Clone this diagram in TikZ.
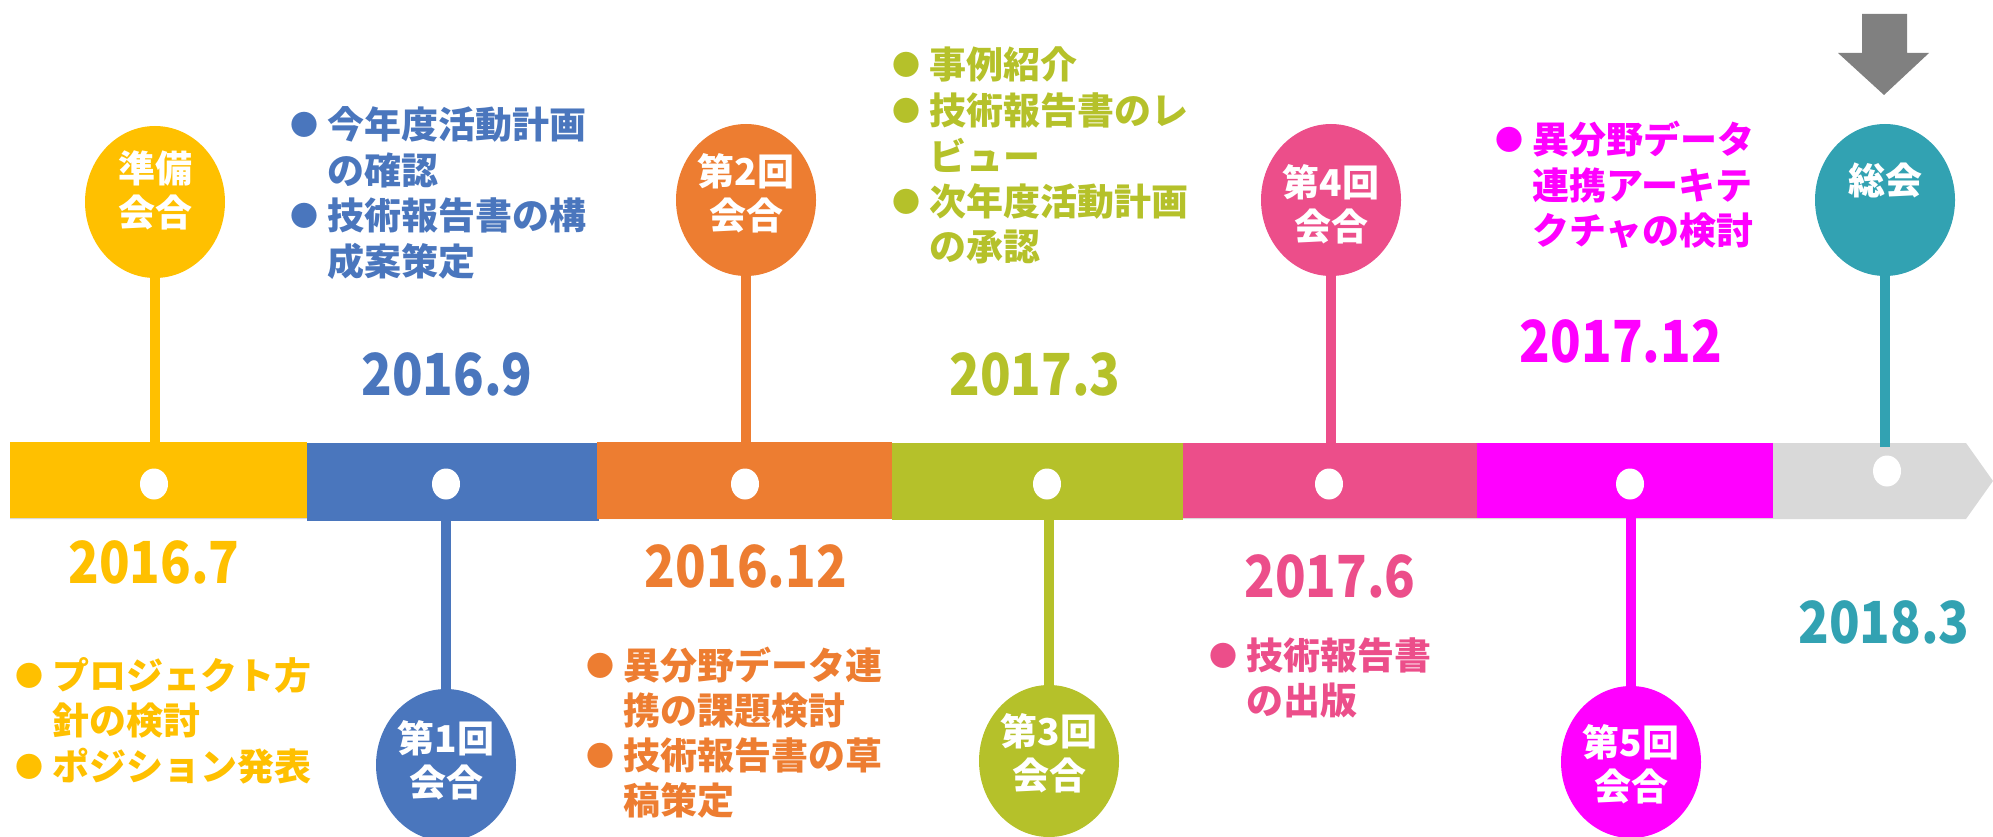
\documentclass[tikz,border=0pt]{standalone}
\usepackage{fontspec}
\usepackage{graphicx}
\usetikzlibrary{shapes.geometric}
\newfontfamily\jp{Noto Sans CJK JP}
\definecolor{colY}{HTML}{FFC000}
\definecolor{colB}{HTML}{4A76BD}
\definecolor{colO}{HTML}{ED7D31}
\definecolor{colG}{HTML}{B5C12A}
\definecolor{colP}{HTML}{EC4E8A}
\definecolor{colM}{HTML}{FF00FF}
\definecolor{colT}{HTML}{32A2B2}
\definecolor{colGray}{HTML}{D9D9D9}
\definecolor{colArrow}{HTML}{808080}
\newcommand{\bl}{\makebox[37pt][l]{\raisebox{3pt}{\fontsize{28}{28}\selectfont ●}}}
\newcommand{\ind}{\hspace*{37pt}}
\newcommand{\dt}[1]{\scalebox{0.87}[1]{#1}}
\begin{document}
\begin{tikzpicture}[x=1pt,y=-1pt,
  seg/.style={rectangle, inner sep=0, draw=none, minimum height=76pt},
  meet/.style={ellipse, inner sep=0, minimum width=140pt, minimum height=152pt},
  mtext/.style={text=white, align=center, inner sep=0, font=\jp\bfseries\fontsize{37}{44}\selectfont},
  stem/.style={line width=10pt},
  dot/.style={ellipse, fill=white, inner sep=0, minimum width=28pt, minimum height=31pt},
  date/.style={inner sep=0, font=\jp\bfseries\fontsize{58}{58}\selectfont},
  blk/.style={anchor=base west, inner sep=0, font=\jp\bfseries\fontsize{37}{45}\selectfont}]
\useasboundingbox (0,0) rectangle (1993,837);
\clip (0,0) rectangle (1993,837);
% base arrow
\fill[colGray] (10,443) -- (1966,443) -- (1993,481) -- (1966,519) -- (10,519) -- cycle;
% segments
\node[seg, fill=colY, minimum width=297pt] (s0) at (158.5,480) {};
\node[seg, fill=colB, minimum width=292pt, minimum height=78pt] (s1) at (453,482) {};
\node[seg, fill=colO, minimum width=295pt, minimum height=77pt] (s2) at (744.5,480.5) {};
\node[seg, fill=colG, minimum width=291pt, minimum height=77pt] (s3) at (1037.5,481.5) {};
\node[seg, fill=colP, minimum width=294pt, minimum height=75pt] (s4) at (1330,480.5) {};
\node[seg, fill=colM, minimum width=296pt, minimum height=75pt] (s5) at (1625,480.5) {};
% meeting circles
\node[meet, fill=colY] (m0) at (155,202) {};
\node[meet, fill=colB] (m1) at (446,765) {};
\node[meet, fill=colO] (m2) at (746,200) {};
\node[meet, fill=colG] (m3) at (1049,761) {};
\node[meet, fill=colP] (m4) at (1331,200) {};
\node[meet, fill=colM] (m5) at (1631,762) {};
\node[meet, fill=colT] (m6) at (1885,200) {};
% stems
\draw[stem, colY] (m0.south) -- (m0.south |- s0.north);
\draw[stem, colB] (m1.north) -- (m1.north |- s1.south);
\draw[stem, colO] (m2.south) -- (m2.south |- s2.north);
\draw[stem, colG] (m3.north) -- (m3.north |- s3.south);
\draw[stem, colP] (m4.south) -- (m4.south |- s4.north);
\draw[stem, colM] (m5.north) -- (m5.north |- s5.south);
\coordinate (e6) at (1885,447);
\draw[stem, colT] (m6.south) -- (e6);
% dots
\node[dot] (d0) at (154,484) {};
\node[dot] (d1) at (446,484) {};
\node[dot] (d2) at (745,484) {};
\node[dot] (d3) at (1047,484) {};
\node[dot] (d4) at (1329,484) {};
\node[dot] (d5) at (1630,484) {};
\node[dot] (d6) at (1887,471) {};
% circle texts
\node[mtext] (t0) at (155,190) {準備\\会合};
\node[mtext] (t1) at (446,760) {第1回\\会合};
\node[mtext] (t2) at (746,193) {第2回\\会合};
\node[mtext] (t3) at (1049,753) {第3回\\会合};
\node[mtext] (t4) at (1331,204) {第4回\\会合};
\node[mtext] (t5) at (1631,764) {第5回\\会合};
\node[mtext] (t6) at (1885,180) {総会};
% down arrow
\fill[colArrow] (1862,14) -- (1907,14) -- (1907,53) -- (1929,53) -- (1884,95) -- (1838,53) -- (1862,53) -- cycle;
% dates
\node[date, text=colY] (y0) at (154,562) {\dt{2016.7}};
\node[date, text=colB] (y1) at (447,374) {\dt{2016.9}};
\node[date, text=colO] (y2) at (746,566) {\dt{2016.12}};
\node[date, text=colG] (y3) at (1035,374) {\dt{2017.3}};
\node[date, text=colP] (y4) at (1330,576) {\dt{2017.6}};
\node[date, text=colM] (y5) at (1621,341) {\dt{2017.12}};
\node[date, text=colT] (y6) at (1884,622) {\dt{2018.3}};
% bullet blocks
\node[blk, text=colB] (b1) at (290,139) {\begin{tabular}[t]{@{}l@{}}\bl 今年度活動計画\\\ind の確認\\\bl 技術報告書の構\\\ind 成案策定\end{tabular}};
\node[blk, text=colY] (b0) at (15,689) {\begin{tabular}[t]{@{}l@{}}\bl プロジェクト方\\\ind 針の検討\\\bl ポジション発表\end{tabular}};
\node[blk, text=colO] (b2) at (586,679) {\begin{tabular}[t]{@{}l@{}}\bl 異分野データ連\\\ind 携の課題検討\\\bl 技術報告書の草\\\ind 稿策定\end{tabular}};
\node[blk, text=colG] (b3) at (892,79) {\begin{tabular}[t]{@{}l@{}}\bl 事例紹介\\\bl 技術報告書のレ\\\ind ビュー\\\bl 次年度活動計画\\\ind の承認\end{tabular}};
\node[blk, text=colP] (b4) at (1209,669) {\begin{tabular}[t]{@{}l@{}}\bl 技術報告書\\\ind の出版\end{tabular}};
\node[blk, text=colM] (b5) at (1495,154) {\begin{tabular}[t]{@{}l@{}}\bl 異分野データ\\\ind 連携アーキテ\\\ind クチャの検討\end{tabular}};
\end{tikzpicture}
\end{document}
